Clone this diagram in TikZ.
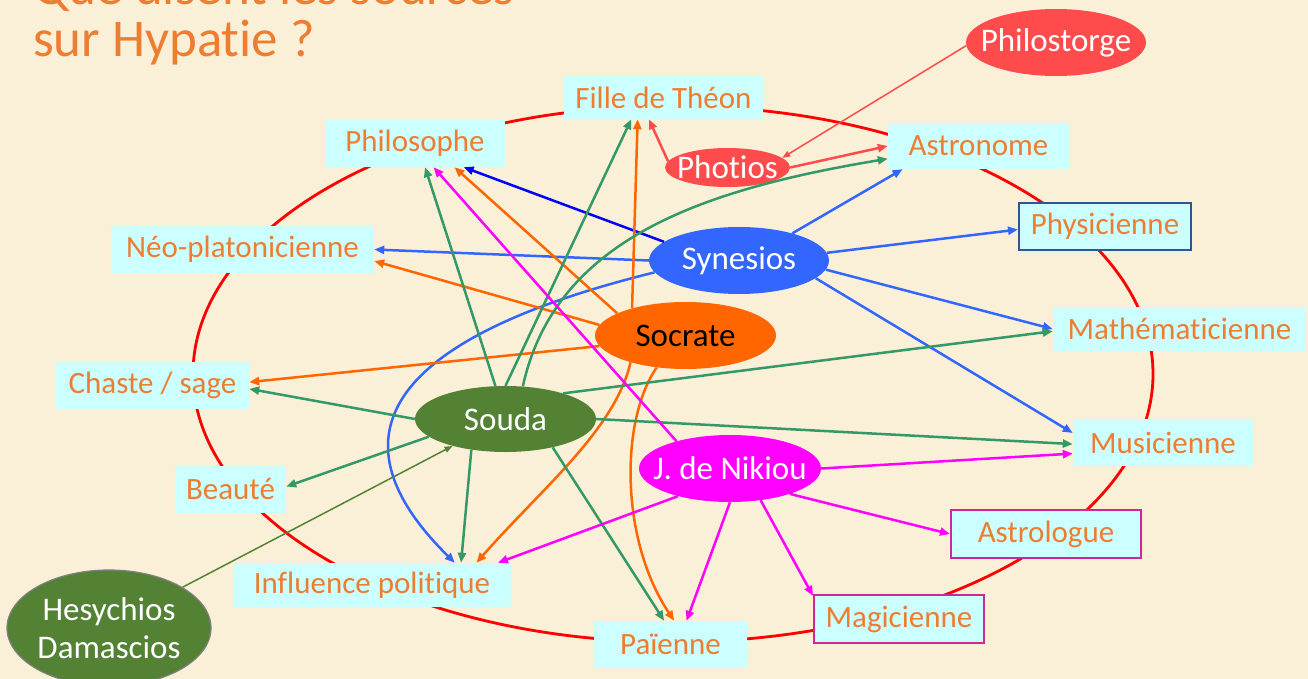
\documentclass[tikz,border=0pt]{standalone}
\usepackage{fontspec}
\setmainfont{Carlito}[Ligatures=NoCommon]
\usetikzlibrary{shapes.geometric,arrows.meta}

\definecolor{parch}{RGB}{250,240,215}
\definecolor{txtor}{RGB}{237,125,49}
\definecolor{boxcy}{RGB}{204,255,255}
\definecolor{rimred}{RGB}{255,0,0}
\definecolor{synblue}{RGB}{51,102,255}
\definecolor{darkblue}{RGB}{0,0,255}
\definecolor{socor}{RGB}{255,102,0}
\definecolor{soudagr}{RGB}{84,130,53}
\definecolor{linkgr}{RGB}{51,153,102}
\definecolor{nikmag}{RGB}{255,0,255}
\definecolor{phored}{RGB}{255,75,75}
\definecolor{physrim}{RGB}{47,85,151}
\definecolor{magrim}{RGB}{204,40,150}

\begin{document}
\begin{tikzpicture}
    [%%%%%%%%%%%%%%%%%%%%%%%%%%%%%%
        x=1pt, y=-1pt,
        box/.style={rectangle, fill=boxcy, text=txtor, inner sep=0pt, font=\fontsize{31}{37}\selectfont},
        src/.style={ellipse, inner xsep=-20pt, inner ysep=0pt, text=white, font=\fontsize{33}{38}\selectfont},
        ttl/.style={anchor=base west, inner sep=0pt, text=txtor, font=\fontsize{53}{60}\selectfont},
        arr/.style={line width=2.5pt, -{Triangle[length=10pt,width=8pt]}},
        slim/.style={line width=1.5pt, -{Triangle[length=8pt,width=6pt]}},
    ]%%%%%%%%%%%%%%%%%%%%%%%%%%%%%%

\clip (0,0) rectangle (1308,679);
\fill[parch] (0,0) rectangle (1308,679);

\node[ttl] (ttlA) at (33,5) {Que disent les sources};
\node[ttl] (ttlB) at (33,57) {sur Hypatie ?};

\draw[rimred, line width=2.8pt] (673,374) ellipse [x radius=480, y radius=268];

% qualities
\node[box, minimum width=199, minimum height=43] (fille) at (663.5,97.5) {Fille de Théon};
\node[box, minimum width=180, minimum height=47] (philo) at (415,143.5) {Philosophe};
\node[box, minimum width=181, minimum height=46] (astro) at (978.5,146) {Astronome};
\node[box, draw=physrim, line width=2pt, minimum width=172, minimum height=47] (phys) at (1105,226.5) {Physicienne};
\node[box, minimum width=263, minimum height=47] (neo) at (242.5,249.5) {Néo-platonicienne};
\node[box, minimum width=253, minimum height=44] (math) at (1179.5,329) {Mathématicienne};
\node[box, minimum width=193, minimum height=47] (chaste) at (152.5,385.5) {Chaste / sage};
\node[box, minimum width=180, minimum height=47] (musi) at (1163,442.5) {Musicienne};
\node[box, minimum width=111, minimum height=47] (beaute) at (230.5,489.5) {Beauté};
\node[box, draw=magrim, line width=2pt, minimum width=190, minimum height=48] (astrol) at (1046,534) {Astrologue};
\node[box, minimum width=278, minimum height=44] (influ) at (372,585) {Influence politique};
\node[box, draw=magrim, line width=2pt, minimum width=170, minimum height=48] (magi) at (899,619) {Magicienne};
\node[box, minimum width=153, minimum height=47] (paien) at (670.5,644.5) {Païenne};

% sources
\node[src, fill=phored, minimum width=180, minimum height=67] (philost) at (1056,42.5) {Philostorge};
\node[src, fill=phored, minimum width=125, minimum height=39] (photios) at (727.5,167.5) {Photios};
\node[src, fill=synblue, minimum width=180, minimum height=67] (syn) at (739,260.5) {Synesios};
\node[src, fill=socor, text=black, minimum width=181, minimum height=67] (socr) at (685.5,335.5) {Socrate};
\node[src, fill=soudagr, minimum width=181, minimum height=66] (souda) at (505.5,419) {Souda};
\node[src, fill=nikmag, minimum width=182, minimum height=67] (nik) at (730,468.5) {J. de Nikiou};
\node[src, fill=soudagr, draw=gray, line width=1.2pt, align=center, minimum width=204, minimum height=116] (hesy) at (109,628) {Hesychios\\Damascios};

% Synesios
\draw[arr, darkblue] (syn.166.5) -- (philo.-26.6);
\foreach \a/\b in {180/neo.east, 27.4/astro.-163, 5/phys.182, -6/math.west, -13/musi.174}
    \draw[arr, synblue] (syn.\a) -- (\b);
\draw[arr, synblue] (syn.188) .. controls (360,345) and (340,450) .. (influ.15.6);

% Socrate
\foreach \a/\b in {162/philo.-31.7, 173.8/neo.-5, 153.4/fille.-140.9, 187.5/chaste.2}
    \draw[arr, socor] (socr.\a) -- (\b);
\draw[arr, socor] (socr.206.4) .. controls (615,430) and (540,490) .. (influ.12.65);
\draw[arr, socor] (socr.228.5) .. controls (620,420) and (620,540) .. (paien.81.5);

% Souda
\foreach \a/\b in {107/philo.-67, 90/fille.-146.5, 180/chaste.-2, 193.4/beaute.3, 222/influ.14, -31.4/paien.105.5, 24.7/math.181.4, 0/musi.181.6}
    \draw[arr, linkgr] (souda.\a) -- (\b);
\draw[arr, linkgr] (souda.62.8) .. controls (555,240) and (700,190) .. (astro.188.8);

% J. de Nikiou
\foreach \a/\b in {153.4/philo.-52.5, 0/musi.187.3, -23.8/astrol.west, -46.4/magi.165, 270/paien.56.6, 208.3/influ.10}
    \draw[arr, nikmag] (nik.\a) -- (\b);

% Photios, Philostorge, Hesychios
\draw[arr, phored] (photios.174.8) -- (fille.236);
\draw[arr, phored] (photios.east) -- (astro.west);
\draw[slim, phored] (philost.182) -- (photios.10);
\draw[slim, soudagr] (hesy.29.3) -- (souda.207.2);
\end{tikzpicture}
\end{document}
